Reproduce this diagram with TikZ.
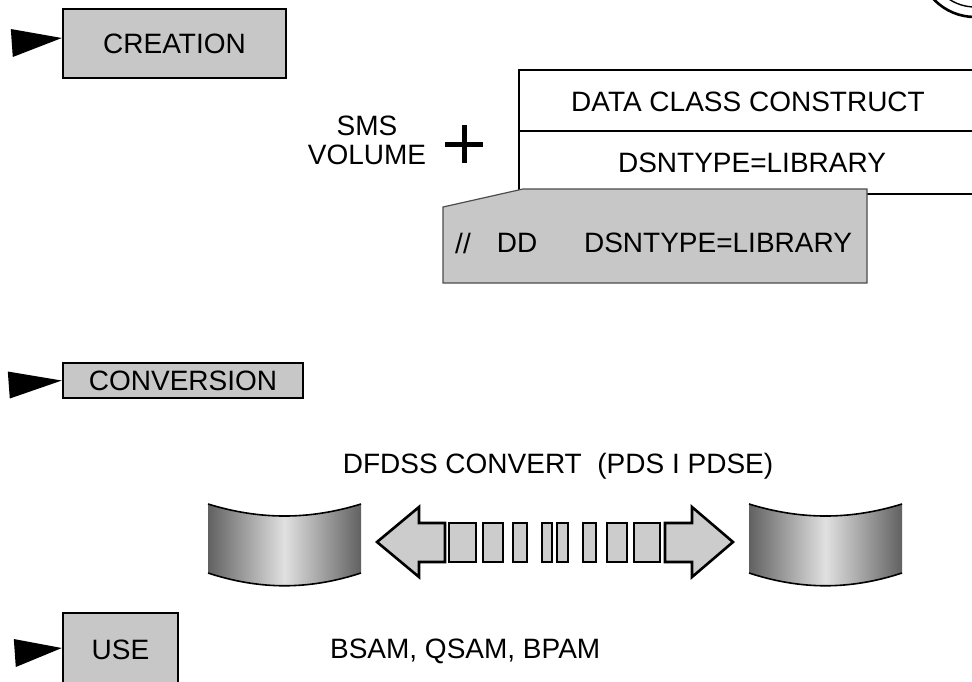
\documentclass[tikz,border=0pt]{standalone}
\usepackage{fontspec}
\setmainfont{Liberation Sans}

\tikzset{
  stagebox/.style={draw,line width=1.2pt,fill=black!22,inner sep=0pt},
  ddbox/.style={draw=black!70,line width=0.6pt,fill=black!22},
  volume/.style={left color=black!62,right color=black!62,middle color=black!12},
  flow/.style={draw,line width=1.3pt,fill=black!20,line join=miter}
}

\begin{document}
\begin{tikzpicture}[x=0.5pt,y=-0.5pt,font=\fontsize{14}{15}\selectfont]
      \clip (0,0) rectangle (972,681);

      % corner of the seal
      \draw[line width=1.3pt] (975,-40) circle (57);
      \draw[line width=0.7pt] (975,-40) circle (47);

      % the three stages
      \node[stagebox,minimum width=111.5pt,minimum height=34.5pt] (creation) at (174.5,43.5) {CREATION};
      \node[stagebox,minimum width=120pt,minimum height=17.5pt] (conversion) at (183,380.5) {CONVERSION};
      \node[stagebox,minimum width=57.5pt,minimum height=37pt] (use) at (120.5,650) {USE};
      \fill ([yshift=2.75pt]creation.west) -- ++(-51,-9) -- ++(2,28) -- cycle;
      \fill (conversion.west) -- ++(-54,-9) -- ++(2,27) -- cycle;
      \fill ([yshift=1pt]use.west) -- ++(-48,-9) -- ++(2,28) -- cycle;

      % creation
      \node[align=center,font=\fontsize{14}{14.5}\selectfont] (sms) at (367,140) {SMS\\VOLUME};
      \draw[line width=2.5pt] (445,144) -- (483,144) (464,125) -- (464,163);
      \draw[line width=1pt] (990,70) -- (519,70) -- (519,194) -- (990,194);
      \draw[line width=1pt] (519,131) -- (990,131);
      \node (dcc) at (748,102) {DATA CLASS CONSTRUCT};
      \node (dctype) at (752,163) {DSNTYPE=LIBRARY};
      \draw[ddbox] (443,207) -- (523,189) -- (867,189) -- (867,283) -- (443,283) -- cycle;
      \node (slash) at (463,243) {//};
      \node (dd) at (517,243) {DD};
      \node (ddtype) at (718,243) {DSNTYPE=LIBRARY};

      % conversion
      \node (dfdss) at (558,466) {DFDSS CONVERT\ \ (PDS I PDSE)};
      \foreach \x in {208,749} {
        \shade[volume] (\x,504) .. controls (\x+52,520) and (\x+101,520) .. (\x+153,504)
          -- (\x+153,573) .. controls (\x+101,590) and (\x+52,590) .. (\x,573) -- cycle;
        \draw[line width=0.8pt] (\x,504) .. controls (\x+52,520) and (\x+101,520) .. (\x+153,504);
        \draw[line width=0.8pt] (\x,573) .. controls (\x+52,590) and (\x+101,590) .. (\x+153,573);
      }
      \draw[flow] (377,542) -- (419,507) -- (419,523) -- (445,523) -- (445,562) -- (419,562) -- (419,577) -- cycle;
      \foreach \a/\b in {449/476,483/503,513/527,542/552,557/568,583/596,607/627,634/660}
        \draw[flow] (\a,523) rectangle (\b,562);
      \draw[flow] (665,523) -- (692,523) -- (692,507) -- (733,542) -- (692,577) -- (692,562) -- (665,562) -- cycle;

      % use
      \node[anchor=west] (access) at (323,651) {BSAM, QSAM, BPAM};
    \end{tikzpicture}
\end{document}
